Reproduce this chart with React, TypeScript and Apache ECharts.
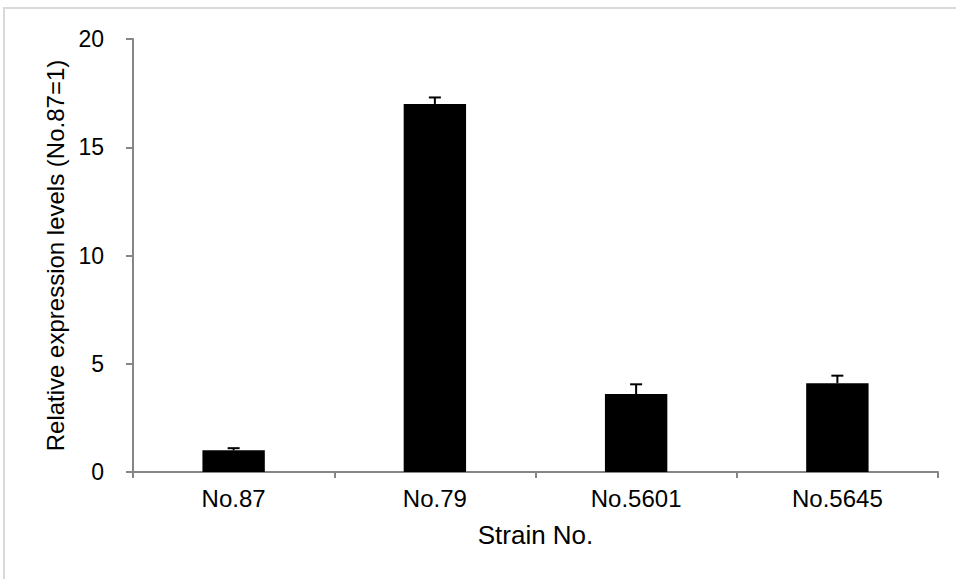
import React, { useEffect, useRef } from "react";
import * as echarts from "echarts";

// Strains and their relative expression (No.87 = 1), with upper error values
const strains = ["No.87", "No.79", "No.5601", "No.5645"];
const expression = [1.0, 17.0, 3.6, 4.1];
const errors = [0.1, 0.3, 0.45, 0.35];
const yTicks = { min: 0, max: 20, interval: 5 };

const FONT = "Liberation Sans, Arial, Helvetica, sans-serif";
const AXIS_GRAY = "#868686";

export default function App() {
  const ref = useRef<HTMLDivElement>(null);

  useEffect(() => {
    if (!ref.current) return;
    const chart = echarts.init(ref.current, undefined, { renderer: "svg" });

    const errorData = strains.map((_, i) => [i, expression[i], expression[i] + errors[i]]);

    chart.setOption({
      animation: false,
      backgroundColor: "#ffffff",
      textStyle: { fontFamily: FONT, color: "#000" },
      graphic: [
        {
          type: "rect",
          shape: { x: 4, y: 8, width: 1000, height: 1000 },
          style: { fill: "none", stroke: "#d9d9d9", lineWidth: 2 },
          silent: true,
          z: -1,
        },
      ],
      grid: { left: 133, right: 18, top: 39, bottom: 107, containLabel: false },
      xAxis: {
        type: "category",
        data: strains,
        name: "Strain No.",
        nameLocation: "middle",
        nameGap: 50,
        nameTextStyle: { fontSize: 26, color: "#000", fontFamily: FONT },
        axisLine: { lineStyle: { color: AXIS_GRAY, width: 2 } },
        axisTick: { show: true, length: 6, lineStyle: { color: AXIS_GRAY, width: 2 } },
        axisLabel: { fontSize: 24, color: "#000", margin: 14, fontFamily: FONT },
      },
      yAxis: {
        type: "value",
        min: yTicks.min,
        max: yTicks.max,
        interval: yTicks.interval,
        name: "Relative expression levels (No.87=1)",
        nameLocation: "middle",
        nameGap: 63,
        nameRotate: 90,
        nameTextStyle: { fontSize: 24, color: "#000", fontFamily: FONT },
        axisLine: { show: true, lineStyle: { color: AXIS_GRAY, width: 2 } },
        axisTick: { show: true, length: 7, lineStyle: { color: AXIS_GRAY, width: 2 } },
        axisLabel: { fontSize: 23, color: "#000", margin: 29, fontFamily: FONT },
        splitLine: { show: false },
      },
      series: [
        {
          type: "bar",
          data: expression,
          barWidth: "31%",
          itemStyle: { color: "#000000" },
        },
        {
          type: "custom",
          data: errorData,
          z: 3,
          renderItem: (params: any, api: any) => {
            const idx = api.value(0);
            const base = api.coord([idx, api.value(1)]);
            const top = api.coord([idx, api.value(2)]);
            const half = 6;
            const style = { stroke: "#000", lineWidth: 2 };
            return {
              type: "group",
              children: [
                { type: "line", shape: { x1: base[0], y1: base[1], x2: top[0], y2: top[1] }, style },
                { type: "line", shape: { x1: top[0] - half, y1: top[1], x2: top[0] + half, y2: top[1] }, style },
              ],
            };
          },
        },
      ],
    });

    return () => chart.dispose();
  }, []);

  return (
    <div
      ref={ref}
      style={{ position: "fixed", left: 0, top: 0, width: 956, height: 579, background: "#fff" }}
    />
  );
}
